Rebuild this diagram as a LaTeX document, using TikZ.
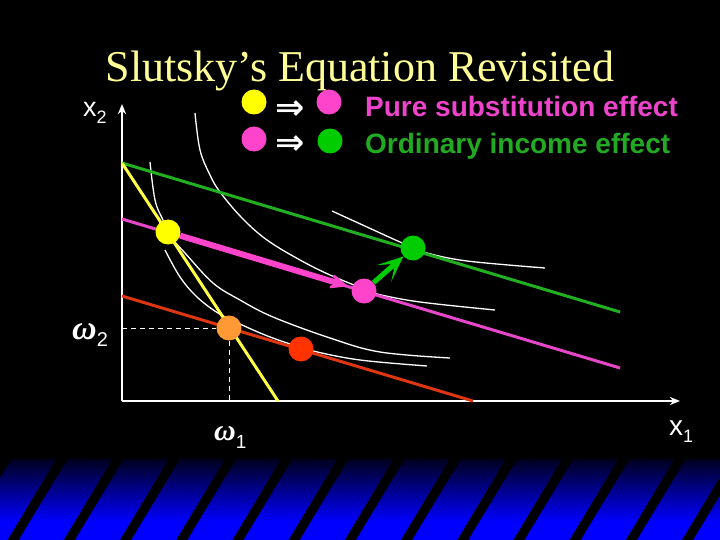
\documentclass[tikz,border=0pt]{standalone}
\usepackage{fontspec}
\setmainfont{Liberation Serif}
\setsansfont{Liberation Sans}
\newfontfamily\arrowfont{DejaVu Sans}
\usetikzlibrary{arrows.meta}
\definecolor{titlecol}{RGB}{255,255,150}
\definecolor{bandtop}{RGB}{0,0,30}
\definecolor{bandblue}{RGB}{0,0,255}
\definecolor{magline}{RGB}{230,70,200}
\definecolor{magdot}{RGB}{255,68,204}
\definecolor{magtext}{RGB}{238,68,204}
\definecolor{grnline}{RGB}{34,175,34}
\definecolor{grndot}{RGB}{0,204,0}
\definecolor{grntext}{RGB}{34,170,34}
\definecolor{redline}{RGB}{221,55,17}
\definecolor{reddot}{RGB}{255,51,0}
\definecolor{orgdot}{RGB}{255,153,51}
\definecolor{yelline}{RGB}{255,255,68}
\definecolor{yeldot}{RGB}{255,255,0}
\begin{document}
\begin{tikzpicture}[x=1pt,y=-1pt,
  dot/.style={circle,inner sep=0pt,minimum size=25pt},
  budget/.style={line width=3pt},
  icurve/.style={white,line width=1.3pt},
  axis/.style={white,line width=2pt,-{Stealth[length=10pt,width=8pt,inset=3pt]}},
  guide/.style={white,line width=1pt,dash pattern=on 5pt off 4pt},
  lbl/.style={inner sep=0pt,anchor=base west,text=white},
  legtext/.style={inner sep=0pt,anchor=base west,font=\sffamily\bfseries\fontsize{28}{30}\selectfont},
  impl/.style={inner sep=0pt,text=white,text height=14pt,text depth=0pt,font=\arrowfont\bfseries\fontsize{35}{35}\selectfont}]
\fill[black] (0,0) rectangle (720,540);
\useasboundingbox (0,0) rectangle (720,540);
% striped band
\shade[top color=bandtop,bottom color=bandblue] (0,459) rectangle (720,522);
\fill[bandblue] (0,521) rectangle (720,540);
\begin{scope}
\clip (0,459) rectangle (720,540);
\foreach \k in {-1,...,13}{
  \pgfmathsetmacro\xt{57+56.2*\k}
  \fill[black] (\xt,458) -- (\xt+11,458) -- (\xt-39,541) -- (\xt-50,541) -- cycle;
}
\end{scope}
% title
\node[inner sep=0pt,anchor=base,text=titlecol,font=\fontsize{44}{48}\selectfont] (title) at (360,82) {Slutsky’s Equation Revisited};
% axes
\coordinate (O) at (122,401);
\coordinate (ytip) at (122,104);
\coordinate (xtip) at (680,401);
\draw[axis] (O) -- (ytip);
\draw[axis] (O) -- (xtip);
% indifference curves
\draw[icurve] plot[smooth,tension=0.6] coordinates {(195,113) (200,150) (210,175) (220,192) (242,218) (267,240) (300,260) (330,275) (364,289) (377,294) (420,302) (495,310)};
\draw[icurve] plot[smooth,tension=0.6] coordinates {(332,211) (367,227) (400,242) (413,247) (427,253) (467,261) (545,268)};
\draw[icurve] plot[smooth,tension=0.6] coordinates {(150,162) (155,200) (163,220) (172,238) (185,253) (213,283) (240,300) (273,317) (330,338) (380,352) (450,358)};
\draw[icurve] plot[smooth,tension=0.6] coordinates {(165,250) (180,277) (197,297) (218,313) (240,324) (265,335) (290,344) (313,351) (360,360) (427,366)};
% budget lines
\coordinate (g1) at (122,163); \coordinate (g2) at (620,312);
\coordinate (m1) at (122,219); \coordinate (m2) at (620,368);
\coordinate (r1) at (122,296); \coordinate (r2) at (473,401);
\coordinate (y1) at (122,163); \coordinate (y2) at (278,401);
\draw[budget,grnline] (g1) -- (g2);
\draw[budget,magline] (m1) -- (m2);
\draw[budget,redline] (r1) -- (r2);
\draw[budget,yelline] (y1) -- (y2);
% dots
\node[dot,fill=yeldot] (Y) at (168,232) {};
\node[dot,fill=magdot] (M) at (364,291) {};
\node[dot,fill=grndot] (G) at (413,248) {};
\node[dot,fill=orgdot] (E) at (229,328) {};
\node[dot,fill=reddot] (R) at (301,349) {};
% endowment guides
\coordinate (w2) at (122,328);
\coordinate (w1) at (229,401);
\draw[guide] (w2) -- (E.west);
\draw[guide] (E.south) -- (w1);
% effect arrows
\draw[magdot,line width=6pt,-{Stealth[length=30pt,width=26pt,inset=20pt]},shorten >=4pt] (Y) -- (M);
\draw[grndot,line width=5pt,-{Stealth[length=26pt,width=22pt,inset=15pt]}] (M) -- (G);
% axis labels
\node[lbl,font=\sffamily\fontsize{27}{28}\selectfont] (x2) at (83,117) {x\raisebox{-7pt}{\fontsize{18}{18}\selectfont 2}};
\node[lbl,font=\sffamily\fontsize{28}{28}\selectfont] (x1) at (669,435) {x\raisebox{-7pt}{\fontsize{18}{18}\selectfont 1}};
\node[lbl,font=\itshape\bfseries\fontsize{34}{34}\selectfont] (om2) at (72,339) {ω\raisebox{-7pt}{\sffamily\upshape\mdseries\fontsize{20}{20}\selectfont 2}};
\node[lbl,font=\itshape\bfseries\fontsize{30}{30}\selectfont] (om1) at (214,440) {ω\raisebox{-8pt}{\sffamily\upshape\mdseries\fontsize{19}{19}\selectfont 1}};
% legend
\node[dot,fill=yeldot] (l1a) at (254,102) {};
\node[impl] (l1i) at (290,113) {⇒};
\node[dot,fill=magdot] (l1b) at (329,102) {};
\node[dot,fill=magdot] (l2a) at (254,139) {};
\node[impl] (l2i) at (290,148) {⇒};
\node[dot,fill=grndot] (l2b) at (330,141) {};
\node[legtext,text=magtext] (t1) at (365,117) {Pure substitution effect};
\node[legtext,text=grntext] (t2) at (365,154) {Ordinary income effect};
\end{tikzpicture}
\end{document}
